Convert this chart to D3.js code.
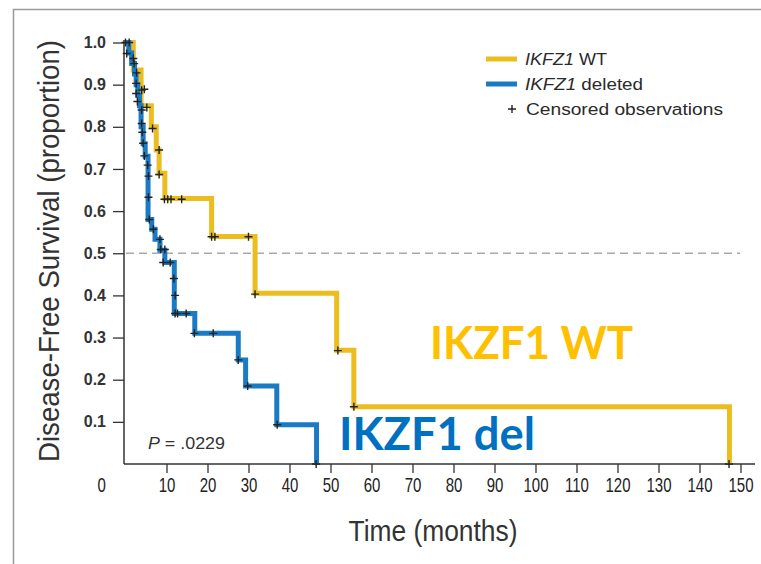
<!DOCTYPE html>
<html>
<head>
<meta charset="utf-8">
<script src="https://cdn.jsdelivr.net/npm/d3@7"></script>
<style>
  body { margin: 0; background: #fff; }
  svg { display: block; }
</style>
</head>
<body>
<div id="chart"></div>
<script>
// Kaplan-Meier steps (time in months, survival proportion)
const wtTimes = [0, 1.9, 3.8, 6.3, 7.5, 8.2, 9.6, 21.0, 31.6, 51.5, 55.7, 147.3]
const wtSurv  = [1.0, 0.935, 0.85, 0.80, 0.745, 0.69, 0.63, 0.54, 0.405, 0.27, 0.136, 0]

const delTimes = [0, 0.8, 1.5, 2.2, 2.6, 3.0, 3.4, 3.8, 4.3, 4.8, 5.5, 6.4, 7.2, 8.4, 9.6, 11.9, 16.9, 27.5, 29.3, 36.9, 46.6]
const delSurv  = [1.0, 0.975, 0.95, 0.925, 0.90, 0.875, 0.85, 0.80, 0.76, 0.73, 0.58, 0.557, 0.533, 0.507, 0.478, 0.357, 0.31, 0.247, 0.185, 0.093, 0]

// censored observations
const wtCensorT = [0, 0.9, 3.95, 4.6, 5.2, 6.6, 8.2, 8.2, 9.5, 10.3, 11.1, 13.7, 21.0, 21.8, 30.0, 31.6, 51.8, 55.7, 147.2]
const wtCensorP = [1.0, 1.0, 0.887, 0.889, 0.846, 0.796, 0.745, 0.687, 0.628, 0.628, 0.628, 0.628, 0.539, 0.539, 0.539, 0.403, 0.269, 0.136, 0]

const delCensorT = [0.3, 1.9, 2.1, 2.7, 2.6, 2.6, 2.9, 3.95, 3.95, 4.1, 4.3, 4.6, 5.4, 5.6, 5.6, 5.8, 6.8, 8.4, 8.6, 9.6, 9.2, 10.9, 11.8, 12.1, 12.1, 12.7, 14.8, 16.8, 21.4, 27.5, 29.8, 37.0, 46.5]
const delCensorP = [0.974, 0.962, 0.95, 0.928, 0.903, 0.879, 0.86, 0.84, 0.808, 0.787, 0.761, 0.731, 0.709, 0.683, 0.633, 0.58, 0.557, 0.533, 0.509, 0.509, 0.478, 0.478, 0.44, 0.40, 0.357, 0.357, 0.357, 0.31, 0.31, 0.247, 0.185, 0.093, 0]

const xTicks = [10, 20, 30, 40, 50, 60, 70, 80, 90, 100, 110, 120, 130, 140, 150]
const yTicks = [0.1, 0.2, 0.3, 0.4, 0.5, 0.6, 0.7, 0.8, 0.9, 1.0]

const colorWT = "#EBBD1F"
const colorDel = "#1A7AC4"

const width = 761, height = 564
const narrow = "Liberation Sans Narrow, Liberation Sans, Arial, sans-serif"
const squeeze = 0.75

const svg = d3.select("#chart").append("svg")
    .attr("width", width)
    .attr("height", height)

// frame around the figure
svg.append("path")
    .attr("d", "M13.5,564 L13.5,9.5 L761,9.5")
    .attr("fill", "none")
    .attr("stroke", "#9a9a9a")
    .attr("stroke-width", 1.5)

const x = d3.scaleLinear().domain([0, 150]).range([125.5, 740.5])
const y = d3.scaleLinear().domain([0, 1]).range([464, 42.5])

// y axis
const yAxis = svg.append("g")
    .attr("transform", "translate(124,0)")
    .call(d3.axisLeft(y).tickValues(yTicks).tickFormat(d3.format(".1f")).tickSize(11).tickPadding(7).tickSizeOuter(0))
yAxis.select(".domain").attr("d", "M0,40V464").attr("stroke", "#333").attr("stroke-width", 1.5)
yAxis.selectAll(".tick line").attr("stroke", "#333").attr("stroke-width", 1.3)
yAxis.selectAll(".tick text")
    .attr("font-family", "Liberation Sans, Arial, sans-serif")
    .attr("font-size", 16)
    .attr("font-weight", "bold")
    .attr("fill", "#333")

// x axis
const xAxis = svg.append("g")
    .attr("transform", "translate(0,464)")
    .call(d3.axisBottom(x).tickValues(xTicks).tickSize(9).tickPadding(5).tickSizeOuter(0))
xAxis.select(".domain").attr("d", "M124,0H755").attr("stroke", "#333").attr("stroke-width", 1.5)
xAxis.selectAll(".tick line").attr("stroke", "#333").attr("stroke-width", 1.3)
xAxis.selectAll(".tick text")
    .attr("font-family", narrow)
    .attr("font-size", 20)
    .attr("fill", "#222")
    .attr("transform", `scale(${squeeze},1)`)   // condensed look

// the lone "0" label sits under the y labels
svg.append("text")
    .attr("x", 101.7 / squeeze).attr("y", 478)
    .attr("dy", "0.71em")
    .attr("transform", `scale(${squeeze},1)`)
    .attr("text-anchor", "middle")
    .attr("font-family", narrow)
    .attr("font-size", 20)
    .attr("fill", "#222")
    .text("0")

// axis titles
svg.append("text")
    .attr("transform", "translate(59,251) rotate(-90)")
    .attr("text-anchor", "middle")
    .attr("font-family", narrow)
    .attr("font-size", 29)
    .attr("fill", "#333")
    .attr("textLength", 422)
    .attr("lengthAdjust", "spacingAndGlyphs")
    .text("Disease-Free Survival (proportion)")

svg.append("text")
    .attr("x", 433).attr("y", 541)
    .attr("text-anchor", "middle")
    .attr("font-family", narrow)
    .attr("font-size", 30)
    .attr("fill", "#333")
    .attr("textLength", 169)
    .attr("lengthAdjust", "spacingAndGlyphs")
    .text("Time (months)")

// median reference line
svg.append("line")
    .attr("x1", 126).attr("x2", 740)
    .attr("y1", y(0.5)).attr("y2", y(0.5))
    .attr("stroke", "#aaa")
    .attr("stroke-width", 1.3)
    .attr("stroke-dasharray", "8,5")

const line = d3.line()
    .x(d => x(d[0]))
    .y(d => y(d[1]))
    .curve(d3.curveStepAfter)

svg.append("path")
    .datum(d3.zip(wtTimes, wtSurv))
    .attr("d", line)
    .attr("fill", "none")
    .attr("stroke", colorWT)
    .attr("stroke-width", 5)
    .attr("stroke-linejoin", "miter")

svg.append("path")
    .datum(d3.zip(delTimes, delSurv))
    .attr("d", line)
    .attr("fill", "none")
    .attr("stroke", colorDel)
    .attr("stroke-width", 5)
    .attr("stroke-linejoin", "miter")

// censor marks
const censors = d3.zip(wtCensorT, wtCensorP).concat(d3.zip(delCensorT, delCensorP))
svg.selectAll(".censor")
    .data(censors)
    .join("path")
    .attr("class", "censor")
    .attr("d", d => {
        const cx = x(d[0]), cy = y(d[1])
        return `M${cx - 4},${cy}H${cx + 4}M${cx},${cy - 4}V${cy + 4}`
    })
    .attr("stroke", "#222")
    .attr("stroke-width", 1.4)

// legend
const legend = svg.append("g")
    .attr("font-family", "Liberation Sans, Arial, sans-serif")
    .attr("font-size", 16)
    .attr("fill", "#2a2a2a")

const legendRows = [
    { color: colorWT, label: " WT", y: 59, len: 82 },
    { color: colorDel, label: " deleted", y: 84, len: 118 }
]
legendRows.forEach(r => {
    legend.append("line")
        .attr("x1", 486).attr("x2", 517)
        .attr("y1", r.y).attr("y2", r.y)
        .attr("stroke", r.color)
        .attr("stroke-width", 5)
    const t = legend.append("text").attr("x", 525).attr("y", r.y + 6)
        .attr("textLength", r.len)
        .attr("lengthAdjust", "spacingAndGlyphs")
    t.append("tspan").attr("font-style", "italic").text("IKFZ1")
    t.append("tspan").text(r.label)
})
legend.append("path")
    .attr("d", "M508,109H516M512,105V113")
    .attr("stroke", "#222")
    .attr("stroke-width", 1.4)
legend.append("text").attr("x", 526).attr("y", 115)
    .attr("textLength", 197)
    .attr("lengthAdjust", "spacingAndGlyphs")
    .text("Censored observations")

// P value
const pText = svg.append("text")
    .attr("x", 148).attr("y", 449)
    .attr("font-family", "Liberation Sans, Arial, sans-serif")
    .attr("font-size", 16)
    .attr("fill", "#333")
    .attr("textLength", 77)
    .attr("lengthAdjust", "spacingAndGlyphs")
pText.append("tspan").attr("font-style", "italic").text("P")
pText.append("tspan").text(" = .0229")

// big annotations
svg.append("text")
    .attr("x", 430).attr("y", 359)
    .attr("font-family", "Lato, Open Sans, sans-serif")
    .attr("font-weight", "bold")
    .attr("font-size", 45)
    .attr("fill", "#FFC000")
    .attr("textLength", 203)
    .attr("lengthAdjust", "spacingAndGlyphs")
    .text("IKZF1 WT")

svg.append("text")
    .attr("x", 339).attr("y", 450)
    .attr("font-family", "Lato, Open Sans, sans-serif")
    .attr("font-weight", "bold")
    .attr("font-size", 45)
    .attr("fill", "#0070C0")
    .attr("textLength", 196)
    .attr("lengthAdjust", "spacingAndGlyphs")
    .text("IKZF1 del")
</script>
</body>
</html>
